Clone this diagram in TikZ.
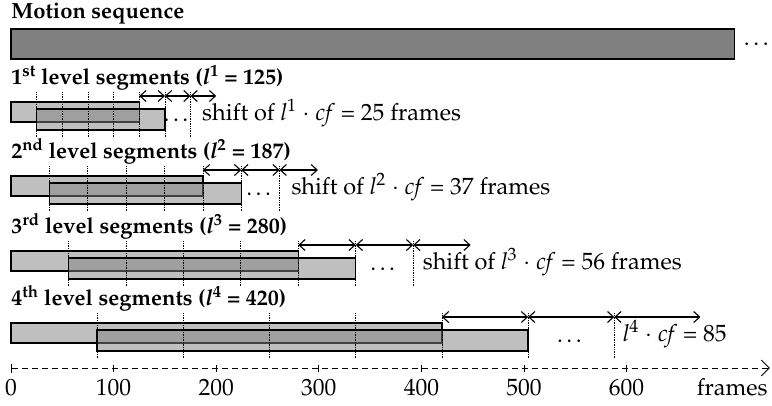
\documentclass[tikz,border=0pt]{standalone}
\usepackage[T1]{fontenc}
\usepackage{mathpazo}
\usetikzlibrary{arrows.meta}
\definecolor{cbar}{gray}{0.5}
\tikzset{
  every picture/.style={x=1.026pt, y=1pt, line width=0.8pt},
  every node/.style={font=\fontsize{23.5}{27}\selectfont, inner sep=0pt},
  title/.style={font=\fontsize{22}{26}\selectfont\bfseries, anchor=base west},
  seqbar/.style={draw=black, fill=cbar, line width=1.4pt},
  segbar/.style={draw=black, fill=cbar, fill opacity=0.5, line width=1.4pt},
  guide/.style={densely dotted, line width=0.7pt},
  shiftarrow/.style={{Straight Barb[length=6pt,width=11pt]}-{Straight Barb[length=6pt,width=11pt]}, line width=1.1pt},
  axis/.style={dash pattern=on 6pt off 4pt, {Bar[width=9pt]}-{Straight Barb[length=8pt,width=16pt]}, line width=0.9pt},
  note/.style={anchor=base west},
}

\begin{document}
\begin{tikzpicture}
  \useasboundingbox (-10.72,0) rectangle (741.7,405);
  % whole motion sequence
  \node[title] (mtitle) at (0,386) {Motion sequence};
  \draw[seqbar] (0,346) rectangle (705,376);
  \node[anchor=base west] (mdots) at (714,359) {\dots};
  % 1st level: l = 125, shift 25
  \begin{scope}[yshift=275pt]
  \node[title] (t1) at (0,46) {1\textsuperscript{st} level segments (\textit{l}\textsuperscript{1} = 125)};
  \draw[segbar] (0,8) rectangle (125,28);
  \draw[segbar] (25,0) rectangle (150,21);
  \foreach \k in {1,...,7} \draw[guide] (\k*25,-7) -- (\k*25,38);
  \foreach \a in {125,150,175} \draw[shiftarrow] (\a,34) -- (\a+25,34);
  \node[anchor=base] (d1) at (162.5,9) {\dots};
  \node[note] (n1) at (186,10) {shift of \textit{l}\textsuperscript{1} $\cdot$ \textit{cf} = 25 frames};
  \end{scope}
  % 2nd level: l = 187, shift 37
  \begin{scope}[yshift=201pt]
  \node[title] (t2) at (0,46) {2\textsuperscript{nd} level segments (\textit{l}\textsuperscript{2} = 187)};
  \draw[segbar] (0,8) rectangle (187,28);
  \draw[segbar] (37.4,0) rectangle (224.4,21);
  \foreach \k in {1,...,7} \draw[guide] (\k*37.4,-7) -- (\k*37.4,38);
  \foreach \a in {187,224.4,261.8} \draw[shiftarrow] (\a,34) -- (\a+37.4,34);
  \node[anchor=base] (d2) at (243.1,9) {\dots};
  \node[note] (n2) at (273,10) {shift of \textit{l}\textsuperscript{2} $\cdot$ \textit{cf} = 37 frames};
  \end{scope}
  % 3rd level: l = 280, shift 56
  \begin{scope}[yshift=126pt]
  \node[title] (t3) at (0,46) {3\textsuperscript{rd} level segments (\textit{l}\textsuperscript{3} = 280)};
  \draw[segbar] (0,8) rectangle (280,28);
  \draw[segbar] (56,0) rectangle (336,21);
  \foreach \k in {1,...,7} \draw[guide] (\k*56,-7) -- (\k*56,38);
  \foreach \a in {280,336,392} \draw[shiftarrow] (\a,34) -- (\a+56,34);
  \node[anchor=base] (d3) at (364,9) {\dots};
  \node[note] (n3) at (401,10) {shift of \textit{l}\textsuperscript{3} $\cdot$ \textit{cf} = 56 frames};
  \end{scope}
  % 4th level: l = 420, shift 85
  \begin{scope}[yshift=54pt]
  \node[title] (t4) at (0,46) {4\textsuperscript{th} level segments (\textit{l}\textsuperscript{4} = 420)};
  \draw[segbar] (0,8) rectangle (420,28);
  \draw[segbar] (84,0) rectangle (504,21);
  \foreach \k in {1,...,7} \draw[guide] (\k*84,-7) -- (\k*84,38);
  \foreach \a in {420,504,588} \draw[shiftarrow] (\a,34) -- (\a+84,34);
  \node[anchor=base] (d4) at (546,9) {\dots};
  \node[note] (n4) at (596,10) {\textit{l}\textsuperscript{4} $\cdot$ \textit{cf} = 85};
  \end{scope}
  % frame axis
  \draw[axis] (0,37) -- (739.7,37);
  \foreach \v in {100,200,...,600} \draw[line width=0.9pt] (\v,33.5) -- (\v,40.5);
  \foreach \v in {0,100,...,600} \node[anchor=base] (x\v) at (\v,10) {\v};
  \node[anchor=base east] (xlabel) at (737.8,10) {frames};
\end{tikzpicture}
\end{document}
